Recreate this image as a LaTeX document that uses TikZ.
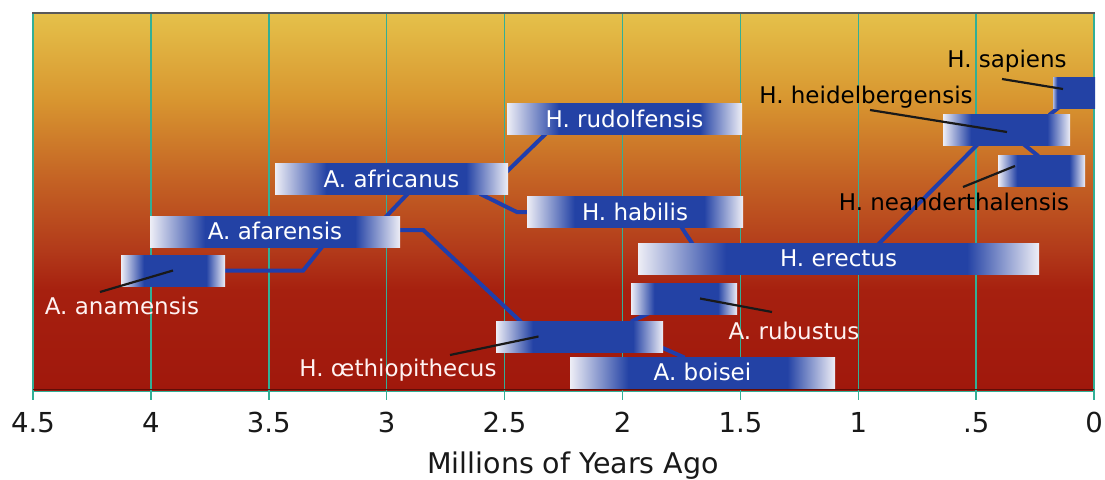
\documentclass[tikz,border=0pt]{standalone}
\usepackage{fontspec}
\setmainfont{DejaVu Sans}
\definecolor{barblue}{RGB}{35,66,165}
\definecolor{barlight}{RGB}{238,238,246}
\definecolor{gridteal}{RGB}{50,175,150}
\definecolor{linkblue}{RGB}{32,62,172}
\definecolor{bgA}{RGB}{229,193,74}
\definecolor{bgB}{RGB}{216,150,48}
\definecolor{bgC}{RGB}{196,98,36}
\definecolor{bgD}{RGB}{178,58,26}
\definecolor{bgE}{RGB}{166,32,15}
\definecolor{bgF}{RGB}{160,24,12}
\pgfdeclareverticalshading{bgshade}{100bp}{color(0bp)=(bgF); color(25bp)=(bgF); color(38.3bp)=(bgE); color(43.6bp)=(bgD); color(52.9bp)=(bgC); color(63.6bp)=(bgB); color(75bp)=(bgA); color(100bp)=(bgA)}
\pgfdeclarehorizontalshading{barshade}{100bp}{color(0bp)=(barlight); color(25bp)=(barlight); color(36bp)=(barblue); color(66bp)=(barblue); color(75bp)=(barlight); color(100bp)=(barlight)}
\pgfdeclarehorizontalshading{sapshade}{100bp}{color(0bp)=(barlight!70!barblue); color(25bp)=(barlight!70!barblue); color(30bp)=(barblue); color(100bp)=(barblue)}
\pgfdeclarelayer{bglayer}
\pgfdeclarelayer{linklayer}
\pgfsetlayers{bglayer,linklayer,main}
\tikzset{
  bar/.style={shade, shading=barshade, minimum height=31pt, inner sep=0pt, text=white,
    font=\fontsize{23}{23}\selectfont, text height=16.5pt, text depth=0pt},
  link/.style={draw=linkblue, line width=4pt, shorten <=-2pt, shorten >=-2pt},
  leader/.style={draw=black!90, line width=2.2pt},
  wlabel/.style={anchor=base, inner sep=0pt, text=white!95!red, font=\fontsize{23}{23}\selectfont},
  klabel/.style={anchor=base, inner sep=0pt, text=black, font=\fontsize{23}{23}\selectfont},
  axnum/.style={anchor=base, inner sep=0pt, text=black!90, font=\fontsize{27.5}{30}\selectfont},
  gridline/.style={draw=gridteal, line width=1.5pt}
}
\begin{document}
\begin{tikzpicture}[x=1pt,y=-1pt]
\useasboundingbox (0,0) rectangle (1105,479);
\begin{pgfonlayer}{bglayer}
\fill[white] (0,0) rectangle (1105,479);
\shade[shading=bgshade] (33,13) rectangle (1094,391);
\foreach \i in {0,...,9} \draw[gridline] (33+117.9*\i,14) -- (33+117.9*\i,400);
\draw[draw=black!65, line width=1.5pt] (32,13.2) -- (1095,13.2);
\draw[draw=bgF!60!black, line width=1.5pt] (33,389.5) -- (1094,389.5);
\draw[gridline] (33,391.5) -- (1094,391.5);
\end{pgfonlayer}
% axis
\foreach \i/\t in {0/4.5,1/4,2/3.5,3/3,4/2.5,5/2,6/1.5,7/1,8/.5,9/0}
  \node[axnum] (ax\i) at (33+117.9*\i,432) {\t};
\node[anchor=base, inner sep=0pt, text=black!90, font=\fontsize{28.5}{32}\selectfont] (title) at (573,473) {Millions of Years Ago};
% bars
\node[bar, minimum width=104pt] (anam) at (173,270.5) {};
\node[bar, minimum width=250pt] (afar) at (275,231.5) {A. afarensis};
\node[bar, minimum width=233pt] (afri) at (391.5,179) {A. africanus};
\node[bar, minimum width=235pt] (rudo) at (624.5,119) {H. rudolfensis};
\node[bar, minimum width=216pt] (habi) at (635,212) {H. habilis};
\node[bar, minimum width=401pt] (erec) at (838.5,258.5) {H. erectus};
\node[bar, minimum width=106pt] (rubu) at (684,298.5) {};
\node[bar, minimum width=167pt] (aeth) at (579.5,336.5) {};
\node[bar, minimum width=265pt] (bois) at (702.5,372.5) {A. boisei};
\node[bar, minimum width=127pt] (heid) at (1006.5,129.5) {};
\node[bar, shading=sapshade, minimum width=42pt] (sapi) at (1074,92.5) {};
\node[bar, minimum width=87pt] (nean) at (1041.5,170.5) {};
% connectors
\begin{pgfonlayer}{linklayer}
\draw[link] (anam.east) -- ++(78,0) -- ([xshift=172pt]afar.south west);
\draw[link] ([xshift=237pt]afar.north west) -- ([xshift=132pt]afri.south west);
\draw[link] ([yshift=1.5pt]afar.east) -- ++(23,0) -- ([xshift=24pt]aeth.north west);
\draw[link] ([yshift=-7pt]afri.north east) -- ([xshift=38pt]rudo.south west);
\draw[link] ([xshift=207pt]afri.south west) -- ([xshift=-10pt]habi.west) -- (habi.west);
\draw[link] ([xshift=155pt]habi.south west) -- ([xshift=54pt]erec.north west);
\draw[link] ([xshift=137pt]aeth.north west) -- ([xshift=16pt]rubu.south west);
\draw[link] ([yshift=4pt]aeth.south east) -- ([xshift=113pt]bois.north west);
\draw[link] ([xshift=242pt]erec.north west) -- ([xshift=34pt]heid.south west);
\draw[link] ([xshift=82pt]heid.south west) -- ([xshift=39pt]nean.north west);
\draw[link] ([xshift=108pt]heid.north west) -- ([xshift=5pt]sapi.south west);
\end{pgfonlayer}
% labels
\node[wlabel] (lanam) at (122,314) {A. anamensis};
\node[wlabel] (lrubu) at (794,339) {A. rubustus};
\node[wlabel] (laeth) at (398,376) {H. œthiopithecus};
\node[klabel] (lheid) at (866,103) {H. heidelbergensis};
\node[klabel] (lsapi) at (1007,67) {H. sapiens};
\node[klabel] (lnean) at (954,210) {H. neanderthalensis};
% leaders
\coordinate (anamL) at (100,292);
\coordinate (rubuL) at (772,312);
\coordinate (aethL) at (450,355);
\coordinate (heidL) at (870,110);
\coordinate (sapiL) at (1002,79);
\coordinate (neanL) at (963,187);
\draw[leader] (anam.center) -- (anamL);
\draw[leader] ([xshift=16pt]rubu.center) -- (rubuL);
\draw[leader] ([xshift=-41pt]aeth.center) -- (aethL);
\draw[leader] (heidL) -- ([xshift=0.5pt,yshift=-2.5pt]heid.center);
\draw[leader] (sapiL) -- ([xshift=-11pt,yshift=3.5pt]sapi.center);
\draw[leader] ([xshift=-26.5pt,yshift=4.5pt]nean.center) -- (neanL);
\end{tikzpicture}
\end{document}
